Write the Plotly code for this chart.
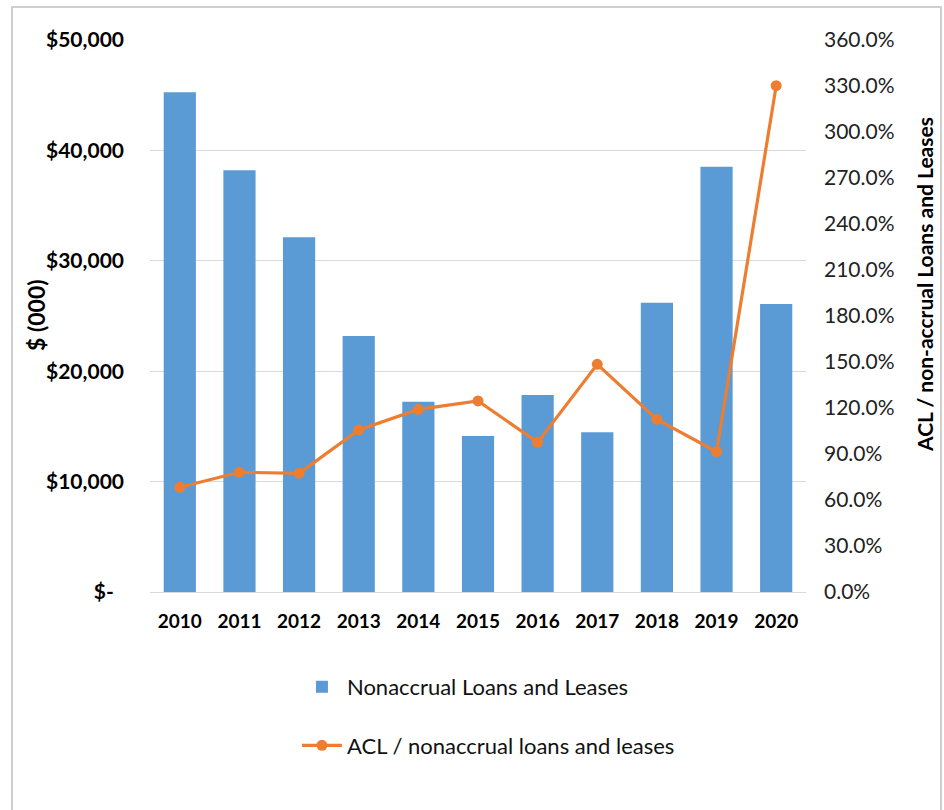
import plotly.graph_objects as go

# Year-end nonaccrual loans and the allowance coverage ratio
years = ["2010", "2011", "2012", "2013", "2014", "2015", "2016", "2017", "2018", "2019", "2020"]
nonaccrual = [45260, 38200, 32130, 23190, 17240, 14130, 17840, 14470, 26200, 38530, 26090]   # $ (000)
acl_ratio = [68.3, 78.1, 77.4, 105.7, 119.1, 124.6, 97.6, 148.5, 112.6, 91.5, 330.2]           # percent

left_tickvals = [0, 10000, 20000, 30000, 40000, 50000]
left_ticktext = ["$-\u00a0\u00a0", "$10,000", "$20,000", "$30,000", "$40,000", "$50,000"]
right_tickvals = [i * 30 for i in range(13)]
right_ticktext = [f"{v:.1f}%" for v in right_tickvals]

FONT = "Lato, 'Open Sans', sans-serif"
BAR_COLOR = "#5B9BD5"
LINE_COLOR = "#ED7D31"
GRID = "#d9d9d9"

fig = go.Figure()
fig.add_trace(go.Bar(
    x=years, y=nonaccrual, name="Nonaccrual Loans and Leases",
    marker=dict(color=BAR_COLOR, line=dict(width=0)),
    legendgroup="bars", yaxis="y",
))
fig.add_trace(go.Scatter(
    x=years, y=acl_ratio, name="ACL / nonaccrual loans and leases",
    mode="lines+markers",
    line=dict(color=LINE_COLOR, width=3.2),
    marker=dict(color=LINE_COLOR, size=11),
    legendgroup="ratio", yaxis="y2",
))

fig.update_layout(
    width=944, height=810,
    margin=dict(l=150, r=138, t=40, b=218),
    paper_bgcolor="white", plot_bgcolor="white",
    font=dict(family=FONT, color="#000000", size=20),
    bargap=0.46,
    showlegend=True,
    legend=dict(
        orientation="v", x=0.224, xanchor="left", y=-0.134, yanchor="top",
        traceorder="grouped", tracegroupgap=27,
        font=dict(family=FONT, size=22, color="#111111"),
        itemwidth=40, bgcolor="rgba(0,0,0,0)",
    ),
    xaxis=dict(
        type="category", range=[-0.5, len(years) - 0.5],
        showgrid=False, showline=True, linecolor=GRID, linewidth=1.3,
        ticks="", tickfont=dict(family=FONT, size=19, color="#000000", weight="bold"),
        ticklabelstandoff=12,
    ),
    yaxis=dict(
        range=[0, 50000], tickvals=left_tickvals, ticktext=left_ticktext,
        showgrid=True, gridcolor=GRID, gridwidth=1.3, zeroline=False, showline=False,
        tickfont=dict(family=FONT, size=21, color="#000000", weight="bold"),
        ticklabelstandoff=25,
    ),
    yaxis2=dict(
        range=[0, 360], tickvals=right_tickvals, ticktext=right_ticktext,
        overlaying="y", side="right", showgrid=False, zeroline=False, showline=False,
        tickfont=dict(family=FONT, size=21, color="#222222"),
        ticklabelstandoff=17,
    ),
    annotations=[
        dict(
            text="$ (000)", textangle=-90,
            xref="paper", yref="paper", x=(36 - 150) / 656, y=(592 - 315) / 552,
            xanchor="center", yanchor="middle", showarrow=False,
            font=dict(family=FONT, size=23, color="#000000", weight="bold"),
        ),
        dict(
            text="ACL / non-accrual Loans and Leases", textangle=-90,
            xref="paper", yref="paper", x=(924 - 150) / 656, y=(592 - 285) / 552,
            xanchor="center", yanchor="middle", showarrow=False,
            font=dict(family=FONT, size=21, color="#000000", weight="bold"),
        ),
    ],
    shapes=[dict(
        type="rect", xref="paper", yref="paper",
        x0=(12 - 150) / 656, x1=(941 - 150) / 656,
        y0=(592 - 830) / 552, y1=(592 - 7) / 552,
        line=dict(color="#cfcfcf", width=2), fillcolor="rgba(0,0,0,0)", layer="below",
    )],
)

fig.write_html("out.html")
